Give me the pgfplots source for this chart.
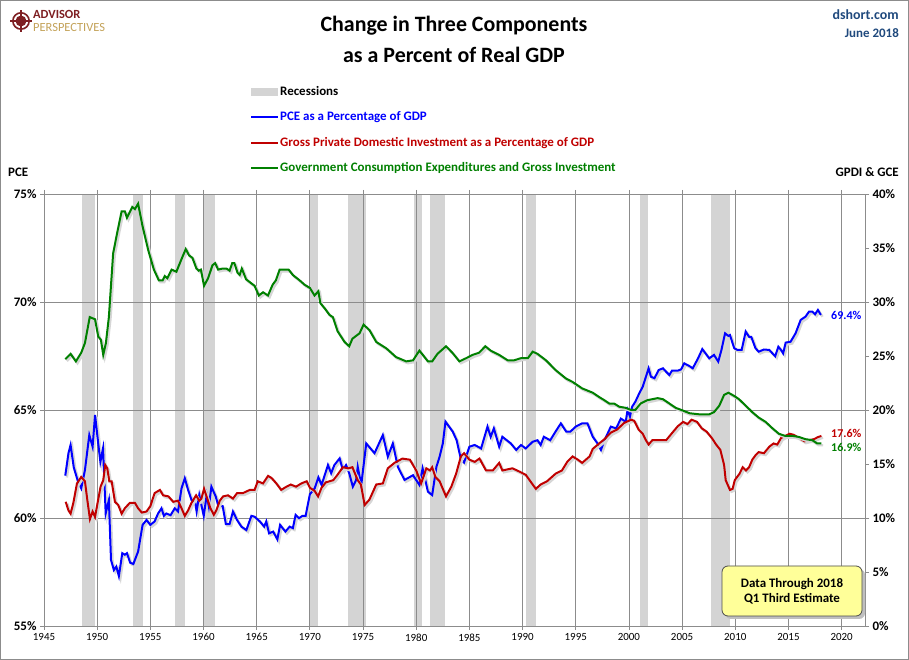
\documentclass[border=0pt]{standalone}
\usepackage{fontspec}
\setmainfont{Carlito}
\usepackage{pgfplots}
\usepackage{pgfplotstable}
\pgfplotsset{compat=1.18}
\definecolor{pceblue}{HTML}{0000FF}
\definecolor{gpdired}{HTML}{C00000}
\definecolor{gcegreen}{HTML}{008000}
\definecolor{recgray}{HTML}{D4D4D4}
\definecolor{majgrid}{HTML}{8C8C8C}
\definecolor{mingrid}{HTML}{D9D9D9}
\definecolor{dsblue}{HTML}{1F497D}
\definecolor{apred}{HTML}{7E1F22}
\definecolor{apgold}{HTML}{C4A35A}
\definecolor{notefill}{HTML}{FFFF99}

\pgfplotstableread{
year v
1947.0 61.96
1947.3 63.0
1947.5 63.38
1947.8 62.34
1948.2 61.68
1948.5 61.37
1948.85 62.22
1949.26 63.84
1949.57 63.3
1949.8 64.77
1950.1 63.45
1950.3 62.6
1950.55 63.22
1950.8 60.21
1951.1 60.83
1951.3 58.06
1951.57 57.59
1951.8 57.75
1952.04 57.31
1952.36 58.37
1952.6 58.3
1952.8 58.37
1953.1 57.93
1953.4 57.87
1953.85 58.45
1954.27 59.68
1954.64 59.91
1955.0 59.68
1955.4 59.84
1955.73 60.21
1956.05 60.45
1956.27 60.1
1956.5 60.21
1956.9 60.13
1957.3 60.45
1957.6 60.3
1957.93 61.37
1958.24 61.84
1958.55 61.3
1958.87 60.83
1959.2 60.76
1959.35 60.3
1959.6 61.07
1959.8 60.6
1960.02 60.1
1960.3 61.07
1960.5 60.53
1960.74 61.45
1961.15 60.99
1961.37 60.6
1961.8 60.55
1962.1 59.72
1962.45 59.72
1962.77 60.3
1963.15 59.91
1963.56 59.6
1964.03 59.44
1964.5 60.1
1964.8 60.06
1965.3 59.84
1965.7 59.6
1965.9 59.84
1966.16 59.29
1966.55 59.37
1966.94 59.01
1967.2 59.68
1967.7 59.37
1968.1 59.6
1968.4 59.53
1968.66 60.14
1968.97 59.99
1969.3 60.1
1969.6 60.1
1970.0 61.1
1970.45 61.37
1970.8 61.88
1971.1 61.53
1971.7 62.45
1972.0 62.07
1972.3 62.45
1972.8 62.76
1973.1 62.22
1973.4 62.45
1973.7 62.07
1974.04 61.45
1974.35 61.76
1974.5 62.37
1974.83 61.53
1975.3 63.45
1976.08 63.0
1976.86 63.84
1977.33 62.84
1977.8 63.45
1978.27 62.37
1978.9 61.76
1979.7 61.98
1980.3 61.53
1980.6 62.3
1981.1 61.22
1981.5 61.06
1981.9 62.37
1982.2 62.84
1982.5 63.45
1982.75 64.46
1983.43 64.0
1983.8 63.6
1984.2 62.72
1984.5 62.57
1985.0 63.3
1985.5 63.38
1986.1 63.22
1986.7 64.23
1987.0 63.76
1987.3 64.15
1987.8 63.3
1988.1 63.76
1988.9 63.45
1989.4 63.15
1989.85 63.38
1990.3 63.22
1990.95 63.53
1991.4 63.6
1991.7 63.38
1992.0 63.76
1992.6 63.6
1993.1 64.0
1993.6 64.38
1994.1 64.0
1994.5 64.0
1995.0 64.23
1995.6 64.38
1996.1 64.38
1996.6 63.76
1997.05 63.45
1997.37 63.15
1997.7 63.6
1998.3 64.23
1998.8 64.15
1999.24 64.6
1999.7 64.46
1999.87 65.0
2000.1 64.7
2000.3 65.15
2000.6 65.38
2000.97 65.77
2001.3 66.08
2001.6 66.54
2001.85 66.93
2002.07 66.54
2002.4 66.47
2002.8 66.85
2003.2 66.93
2003.5 66.77
2003.8 66.62
2004.05 66.82
2004.6 66.82
2004.9 66.88
2005.2 67.16
2005.7 67.03
2006.0 66.93
2006.5 67.39
2006.9 67.82
2007.2 67.62
2007.55 67.39
2008.0 67.55
2008.4 67.24
2008.7 67.78
2009.04 68.55
2009.35 68.43
2009.5 68.47
2009.9 67.86
2010.2 67.78
2010.6 67.78
2010.98 68.63
2011.3 68.39
2011.5 68.39
2011.9 67.86
2012.2 67.7
2012.7 67.8
2013.2 67.78
2013.5 67.62
2013.75 67.49
2014.05 67.93
2014.3 67.78
2014.5 67.62
2014.74 68.12
2015.2 68.16
2015.67 68.55
2016.15 69.17
2016.6 69.32
2016.93 69.55
2017.25 69.55
2017.5 69.43
2017.77 69.63
2018.05 69.4
}\pce

\pgfplotstableread{
year v
1947.04 11.5
1947.3 10.7
1947.5 10.4
1947.76 11.4
1948.1 13.2
1948.5 13.8
1948.85 13.4
1949.07 11.7
1949.32 9.9
1949.57 10.6
1949.8 10.1
1950.0 11.2
1950.32 12.9
1950.57 13.5
1950.76 14.9
1950.95 14.6
1951.14 13.4
1951.36 13.4
1951.67 11.5
1951.98 11.2
1952.3 10.4
1952.6 10.9
1953.07 11.4
1953.55 11.4
1953.85 10.9
1954.2 10.5
1954.64 10.6
1955.0 11.1
1955.4 12.3
1955.9 12.6
1956.2 12.1
1956.7 12.0
1957.15 11.5
1957.6 11.6
1957.93 10.9
1958.24 10.2
1958.55 10.7
1958.87 11.4
1959.3 12.1
1959.6 11.6
1959.8 11.8
1960.05 12.7
1960.35 11.8
1960.65 10.9
1960.97 10.3
1961.2 10.7
1961.53 11.6
1961.84 12.0
1962.3 12.1
1962.77 11.8
1963.15 12.3
1963.7 12.3
1964.35 12.6
1964.8 12.6
1965.1 13.4
1965.6 13.2
1966.07 13.9
1966.4 13.7
1966.85 13.2
1967.3 12.6
1967.8 12.9
1968.2 13.1
1968.7 12.9
1969.2 13.2
1969.7 13.4
1970.0 12.8
1970.45 12.5
1970.77 12.0
1971.1 12.8
1971.5 13.3
1972.2 13.5
1972.6 14.0
1973.1 14.7
1973.6 14.6
1974.0 14.7
1974.5 13.5
1974.8 13.1
1975.15 11.2
1975.6 11.7
1976.24 13.1
1976.86 13.2
1977.33 14.6
1977.95 15.1
1978.7 15.5
1979.4 15.4
1980.0 14.4
1980.46 13.2
1980.95 14.6
1981.3 14.4
1981.5 14.7
1981.8 13.8
1982.2 13.4
1982.8 12.0
1983.3 12.9
1983.75 14.1
1984.2 15.7
1984.5 16.0
1985.0 15.4
1985.5 15.2
1985.95 15.5
1986.56 14.4
1987.2 14.4
1987.8 15.1
1988.1 14.4
1989.05 14.6
1989.7 14.3
1990.3 14.0
1990.95 13.1
1991.25 12.7
1991.7 13.1
1992.3 13.4
1993.1 14.1
1993.7 14.4
1994.2 15.2
1994.7 15.7
1995.2 15.4
1995.6 15.1
1996.3 15.7
1996.6 16.4
1997.2 16.9
1997.7 17.3
1998.3 17.9
1998.9 18.2
1999.55 18.8
2000.2 19.1
2000.5 19.0
2000.9 18.2
2001.3 17.8
2001.6 17.2
2001.85 16.8
2002.2 17.2
2002.85 17.2
2003.5 17.2
2004.0 17.8
2004.6 18.5
2005.1 18.9
2005.5 18.7
2005.9 19.1
2006.4 18.9
2006.85 18.3
2007.3 18.0
2007.8 17.4
2008.2 16.8
2008.6 16.3
2008.95 14.9
2009.1 13.5
2009.5 12.6
2009.75 12.7
2009.95 13.5
2010.4 14.1
2010.7 14.7
2011.0 14.4
2011.3 14.7
2011.6 15.4
2011.9 15.8
2012.2 16.1
2012.7 16.0
2013.2 16.6
2013.6 16.9
2013.95 16.8
2014.3 17.4
2014.7 17.6
2015.1 17.8
2015.5 17.7
2016.0 17.4
2016.5 17.1
2016.9 17.2
2017.4 17.3
2017.8 17.5
2018.1 17.6
}\gpdi

\pgfplotstableread{
year v
1947.0 24.7
1947.5 25.2
1948.0 24.5
1948.5 25.3
1948.85 26.2
1949.3 28.6
1949.8 28.4
1950.1 26.8
1950.35 26.5
1950.57 25.1
1950.82 26.2
1951.1 28.6
1951.5 34.5
1951.9 36.5
1952.3 38.4
1952.6 38.4
1952.8 37.8
1953.3 38.8
1953.55 38.6
1953.85 39.1
1954.27 37.0
1954.8 34.8
1955.33 33.0
1955.8 32.0
1956.15 32.0
1956.36 32.4
1956.6 32.2
1957.0 33.0
1957.45 32.8
1957.9 33.9
1958.33 34.9
1958.65 34.3
1958.95 34.1
1959.33 33.1
1959.55 32.9
1959.75 33.0
1960.05 31.5
1960.43 32.2
1960.84 33.4
1961.1 33.6
1961.37 33.0
1961.8 33.1
1962.15 33.1
1962.45 32.9
1962.7 33.6
1962.9 33.6
1963.2 32.7
1963.4 32.5
1963.6 33.1
1964.0 32.1
1964.4 31.8
1964.8 31.5
1965.2 30.6
1965.6 30.9
1966.06 30.6
1966.5 31.6
1966.8 32.0
1967.16 33.0
1967.6 33.0
1968.0 33.0
1968.4 32.5
1969.04 32.0
1969.5 31.6
1970.0 31.3
1970.44 30.6
1970.8 31.0
1970.98 29.9
1971.4 29.4
1971.85 28.8
1972.16 28.6
1972.6 27.3
1973.26 26.3
1973.7 25.9
1974.0 26.6
1974.67 27.1
1975.05 27.9
1975.6 27.4
1976.24 26.3
1977.2 25.7
1978.1 24.9
1979.06 24.5
1979.7 24.6
1980.3 25.5
1981.1 24.5
1981.5 24.5
1982.0 25.2
1982.8 25.9
1983.4 25.3
1984.06 24.5
1984.7 24.8
1985.3 25.1
1985.9 25.3
1986.5 25.9
1987.0 25.5
1987.8 25.1
1988.6 24.6
1989.2 24.6
1989.85 24.8
1990.5 24.8
1990.95 25.4
1991.4 25.2
1992.2 24.6
1993.1 23.7
1994.1 22.9
1994.7 22.6
1995.6 22.0
1996.6 21.6
1997.2 21.2
1997.7 20.9
1998.15 20.6
1998.6 20.6
1999.1 20.3
1999.7 20.2
2000.2 20.0
2000.6 20.0
2001.1 20.6
2001.7 20.9
2002.2 21.0
2002.7 21.1
2003.2 21.0
2003.8 20.6
2004.4 20.2
2005.2 19.9
2005.7 19.7
2006.6 19.6
2007.1 19.6
2007.55 19.6
2008.0 19.8
2008.5 20.4
2008.95 21.4
2009.35 21.6
2009.9 21.3
2010.35 21.0
2010.98 20.4
2011.6 19.8
2012.2 19.3
2012.85 18.9
2013.5 18.3
2014.1 17.8
2014.7 17.6
2015.4 17.6
2016.0 17.5
2016.6 17.3
2017.25 17.2
2017.7 16.9
2018.1 16.9
}\gce

\pgfplotsset{
  basechart/.style={
    at={(44bp,34bp)}, anchor=south west, scale only axis,
    width=821bp, height=432bp,
    xmin=1945, xmax=2022.2,
    /pgf/number format/assume math mode=true,
    /pgf/number format/1000 sep={},
    tick align=outside, major tick length=4bp, minor tick length=0pt,
    axis line style={majgrid, line width=0.8bp},
    tick style={majgrid, line width=0.8bp},
    yticklabel style={font=\bfseries\fontsize{13}{15}\selectfont},
  },
  shadow/.style={black!16, line width=2.4bp, xshift=1.6bp, yshift=-1.8bp},
  recession/.style={fill=recgray, draw=none},
}

\begin{document}
\begin{tikzpicture}[x=1bp,y=1bp]
\useasboundingbox (0,0) rectangle (909,660);
\fill[white] (0,0) rectangle (909,660);

% background layer: minor grid and recession bands
\begin{axis}[basechart,
  ymin=55, ymax=75,
  xtick=\empty, ytick=\empty,
  minor ytick={56,57,58,59,61,62,63,64,66,67,68,69,71,72,73,74},
  yminorgrids,
  minor grid style={mingrid, line width=0.8bp},
  axis line style={draw=none},
]
\addplot[recession] coordinates {(1948.6,55) (1948.6,75) (1949.8,75) (1949.8,55)};
\addplot[recession] coordinates {(1953.4,55) (1953.4,75) (1954.3,75) (1954.3,55)};
\addplot[recession] coordinates {(1957.3,55) (1957.3,75) (1958.3,75) (1958.3,55)};
\addplot[recession] coordinates {(1960.05,55) (1960.05,75) (1961.05,75) (1961.05,55)};
\addplot[recession] coordinates {(1970.0,55) (1970.0,75) (1970.8,75) (1970.8,55)};
\addplot[recession] coordinates {(1973.58,55) (1973.58,75) (1975.3,75) (1975.3,55)};
\addplot[recession] coordinates {(1979.75,55) (1979.75,75) (1980.5,75) (1980.5,55)};
\addplot[recession] coordinates {(1981.25,55) (1981.25,75) (1982.75,75) (1982.75,55)};
\addplot[recession] coordinates {(1990.3,55) (1990.3,75) (1991.25,75) (1991.25,55)};
\addplot[recession] coordinates {(2001.05,55) (2001.05,75) (2001.8,75) (2001.8,55)};
\addplot[recession] coordinates {(2007.75,55) (2007.75,75) (2009.5,75) (2009.5,55)};
\end{axis}

% main layer: major grid, PCE on the left axis
\begin{axis}[basechart,
  ymin=55, ymax=75,
  xtick={1945,1950,...,2020}, ytick={55,60,...,75},
  xmajorgrids, ymajorgrids,
  major grid style={majgrid, line width=0.8bp},
  xticklabel style={font=\fontsize{11}{13}\selectfont},
  xticklabel={\pgfmathprintnumber{\tick}},
  yticklabel={\pgfmathprintnumber{\tick}\%},
]
\addplot[shadow] table[x=year, y=v] {\pce};
\addplot[pceblue, line width=2bp] table[x=year, y=v] {\pce};
\node[anchor=west, text=pceblue, font=\bfseries\fontsize{12}{14}\selectfont, inner sep=0pt] at (axis cs:2019.0,69.4) {69.4\%};
\end{axis}

% right axis: GPDI and GCE
\begin{axis}[basechart,
  ymin=0, ymax=40,
  axis y line*=right, axis x line=none,
  ytick={0,5,...,40},
  yticklabel={\pgfmathprintnumber{\tick}\%},
  clip=false,
]
\addplot[shadow] table[x=year, y=v] {\gpdi};
\addplot[gpdired, line width=2bp] table[x=year, y=v] {\gpdi};
\addplot[shadow] table[x=year, y=v] {\gce};
\addplot[gcegreen, line width=2bp] table[x=year, y=v] {\gce};
\node[anchor=west, text=gpdired, font=\bfseries\fontsize{12}{14}\selectfont, inner sep=0pt] at (axis cs:2019.0,17.8) {17.6\%};
\node[anchor=west, text=gcegreen, font=\bfseries\fontsize{12}{14}\selectfont, inner sep=0pt] at (axis cs:2019.0,16.5) {16.9\%};
\end{axis}

% titles
\node[font=\bfseries\fontsize{22}{26}\selectfont] at (454,634) {Change in Three Components};
\node[font=\bfseries\fontsize{22}{26}\selectfont] at (454,605) {as a Percent of Real GDP};
\node[anchor=east, text=dsblue, font=\bfseries\fontsize{14}{16}\selectfont, inner sep=0pt] at (899,645) {dshort.com};
\node[anchor=east, text=dsblue, font=\bfseries\fontsize{13}{15}\selectfont, inner sep=0pt] at (899,627) {June 2018};

% logo
\fill[apred] (21,639) circle (9);
\fill[white] (21,639) circle (7.2);
\fill[apred] (21,639) circle (5.5);
\fill[apgold] (21,639) circle (1.5);
\draw[apred, line width=1.2bp] (21,628) -- (21,650) (10,639) -- (32,639);
\node[anchor=base west, text=apred, font=\bfseries\fontsize{12.5}{13}\selectfont, inner sep=0pt] at (33,641.5) {ADVISOR};
\node[anchor=base west, text=apgold, font=\fontsize{12.5}{13}\selectfont, inner sep=0pt] at (33,628) {PERSPECTIVES};

% legend
\fill[recgray] (251,564) rectangle (278,572);
\node[anchor=west, font=\bfseries\fontsize{13}{15}\selectfont, inner sep=0pt] at (280,569) {Recessions};
\draw[pceblue, line width=2bp] (251,543) -- (278,543);
\node[anchor=west, text=pceblue, font=\bfseries\fontsize{13}{15}\selectfont, inner sep=0pt] at (280,543) {PCE as a Percentage of GDP};
\draw[gpdired, line width=2bp] (251,517) -- (278,517);
\node[anchor=west, text=gpdired, font=\bfseries\fontsize{13}{15}\selectfont, inner sep=0pt] at (280,517) {Gross Private Domestic Investment as a Percentage of GDP};
\draw[gcegreen, line width=2bp] (251,492) -- (278,492);
\node[anchor=west, text=gcegreen, font=\bfseries\fontsize{13}{15}\selectfont, inner sep=0pt] at (280,492) {Government Consumption Expenditures and Gross Investment};

\node[anchor=west, font=\bfseries\fontsize{13}{15}\selectfont, inner sep=0pt] at (8,488) {PCE};
\node[anchor=east, font=\bfseries\fontsize{13}{15}\selectfont, inner sep=0pt] at (899,488) {GPDI \& GCE};

% note box
\fill[black!25, rounded corners=6bp] (725,41) rectangle (865,91);
\draw[black!70, fill=notefill, rounded corners=6bp, line width=0.8bp] (722,44) rectangle (862,94);
\node[font=\bfseries\fontsize{13}{15}\selectfont, align=center] at (792,69) {Data Through 2018\\Q1 Third Estimate};

% outer frame
\draw[black!45, line width=1bp] (0.5,0.5) rectangle (908.5,659.5);
\end{tikzpicture}
\end{document}
